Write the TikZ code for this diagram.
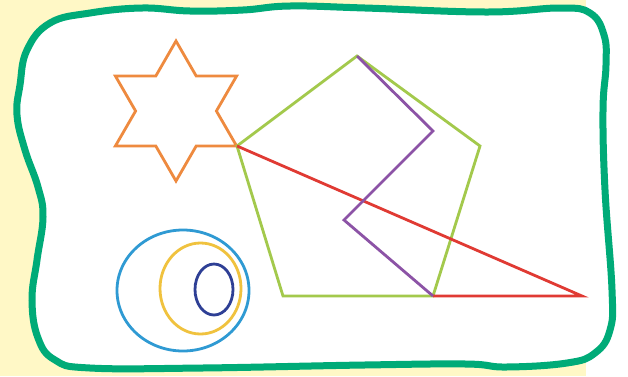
\documentclass[tikz,border=0pt]{standalone}
\usetikzlibrary{calc}

\definecolor{bgyellow}{HTML}{FFF8C6}
\definecolor{framegreen}{HTML}{00AB78}
\definecolor{starorange}{HTML}{EE8A3F}
\definecolor{pentgreen}{HTML}{A3C94C}
\definecolor{trired}{HTML}{E03A33}
\definecolor{zigpurple}{HTML}{8C53A6}
\definecolor{ovalblue}{HTML}{2F9AD3}
\definecolor{ovalyellow}{HTML}{F0C23E}
\definecolor{ovaldark}{HTML}{2E3F95}

\tikzset{
  shapeline/.style={line width=2.8pt, line join=miter},
  frameline/.style={line width=7pt, draw=framegreen, fill=white},
}

\begin{document}
\begin{tikzpicture}[x=1pt, y=-1pt]
    \useasboundingbox (0,0) rectangle (628,376);
    \fill[bgyellow] (0,0) rectangle (586,376);
    % wavy frame
    \draw[frameline] plot[smooth cycle, tension=0.7] coordinates {
      (20,85) (27,50) (50,23) (90,13) (142,8) (190,11) (243,10) (290,6)
      (365,8) (487,12) (560,8) (590,13) (604,35) (606,65) (603,110)
      (605,190) (612,290) (610,330) (595,353) (567,363) (506,367) (466,364)
      (364,365) (202,368) (90,368) (55,360) (38,338) (32,300) (37,260)
      (43,217) (38,187) (25,150) (17,115)};
    % star
    \coordinate (star) at (176,111);
    \begin{scope}[shift={(star)}]
      \draw[shapeline, starorange] (90:70)
        \foreach \a in {90,150,...,390} { -- ({\a+30}:40.4) -- ({\a+60}:70) } -- cycle;
    \end{scope}
    % pentagon
    \coordinate (p1) at (357,56);
    \coordinate (p2) at (480,146);
    \coordinate (p3) at (433,296);
    \coordinate (p4) at (283,296);
    \coordinate (p5) at (237,146);
    \draw[shapeline, pentgreen] (p1) -- (p2) -- (p3) -- (p4) -- (p5) -- cycle;
    % triangle
    \coordinate (tip) at (582,296);
    \draw[shapeline, trired] (p5) -- (tip) -- (p3);
    % zigzag
    \coordinate (z1) at (433,131);
    \coordinate (z2) at (344,220);
    \draw[shapeline, zigpurple] (p1) -- (z1) -- (z2) -- (p3);
    % ovals
    \draw[shapeline, ovalblue] (183,290.5) ellipse [x radius=66, y radius=60.5];
    \draw[shapeline, ovalyellow] (200.5,288.5) ellipse [x radius=40.5, y radius=45.5];
    \draw[shapeline, ovaldark] (214,289.5) ellipse [x radius=19, y radius=25.5];
\end{tikzpicture}
\end{document}
